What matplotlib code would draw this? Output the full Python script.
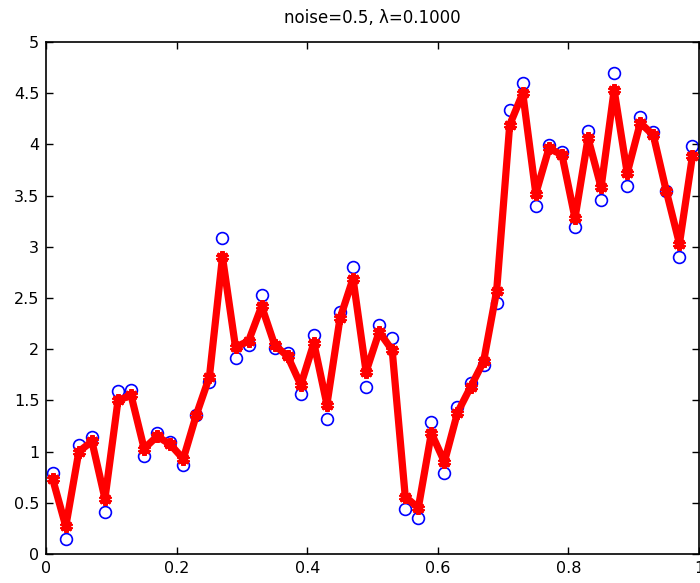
import matplotlib.pyplot as plt
import numpy as np

plt.rcParams['font.family'] = ['DejaVu Sans']

# sample positions (midpoints of 50 bins on [0, 1])
x = np.arange(0.01, 1.0, 0.02)

# noisy observations
noisy = [0.79, 0.15, 1.06, 1.14, 0.41, 1.59, 1.60, 0.96, 1.18, 1.09,
         0.87, 1.36, 1.68, 3.09, 1.91, 2.04, 2.53, 2.01, 1.96, 1.56,
         2.14, 1.32, 2.36, 2.80, 1.63, 2.24, 2.11, 0.44, 0.35, 1.29,
         0.79, 1.44, 1.67, 1.85, 2.45, 4.34, 4.60, 3.40, 3.99, 3.93,
         3.19, 4.13, 3.46, 4.70, 3.59, 4.27, 4.12, 3.54, 2.90, 3.98]

# regularised estimate
smooth = [0.73, 0.27, 1.00, 1.10, 0.54, 1.50, 1.55, 1.03, 1.15, 1.07,
          0.93, 1.36, 1.73, 2.90, 2.02, 2.08, 2.42, 2.04, 1.93, 1.65,
          2.06, 1.46, 2.30, 2.69, 1.78, 2.17, 1.99, 0.56, 0.45, 1.18,
          0.90, 1.38, 1.63, 1.88, 2.57, 4.19, 4.50, 3.52, 3.96, 3.90,
          3.28, 4.06, 3.58, 4.53, 3.72, 4.21, 4.09, 3.54, 3.03, 3.89]

title = 'noise=0.5, λ=0.1000'

fig = plt.figure(figsize=(7.0, 5.83), dpi=100)
ax = fig.add_axes([0.066, 0.0497, 0.9326, 0.8783])

ax.plot(x, noisy, 'o', color='blue', mfc='none', ms=8.5, mew=1.2, zorder=2)
ax.plot(x, smooth, color='red', lw=5.2, marker=(6, 2, 0), ms=9, mew=3, zorder=3)

ax.set_xlim(0, 1)
ax.set_ylim(0, 5)
ax.set_xticks(np.arange(0, 1.01, 0.2))
ax.set_xticklabels(['0', '0.2', '0.4', '0.6', '0.8', '1'])
ax.set_yticks(np.arange(0, 5.01, 0.5))
ax.set_yticklabels(['0', '0.5', '1', '1.5', '2', '2.5', '3', '3.5', '4', '4.5', '5'])
ax.tick_params(direction='in', top=True, right=True, length=5, width=1,
               labelsize=11.5, pad=5)
for s in ax.spines.values():
    s.set_linewidth(1.2)
ax.set_title(title, fontsize=12, pad=14)

fig.savefig('out.png', dpi=100)
